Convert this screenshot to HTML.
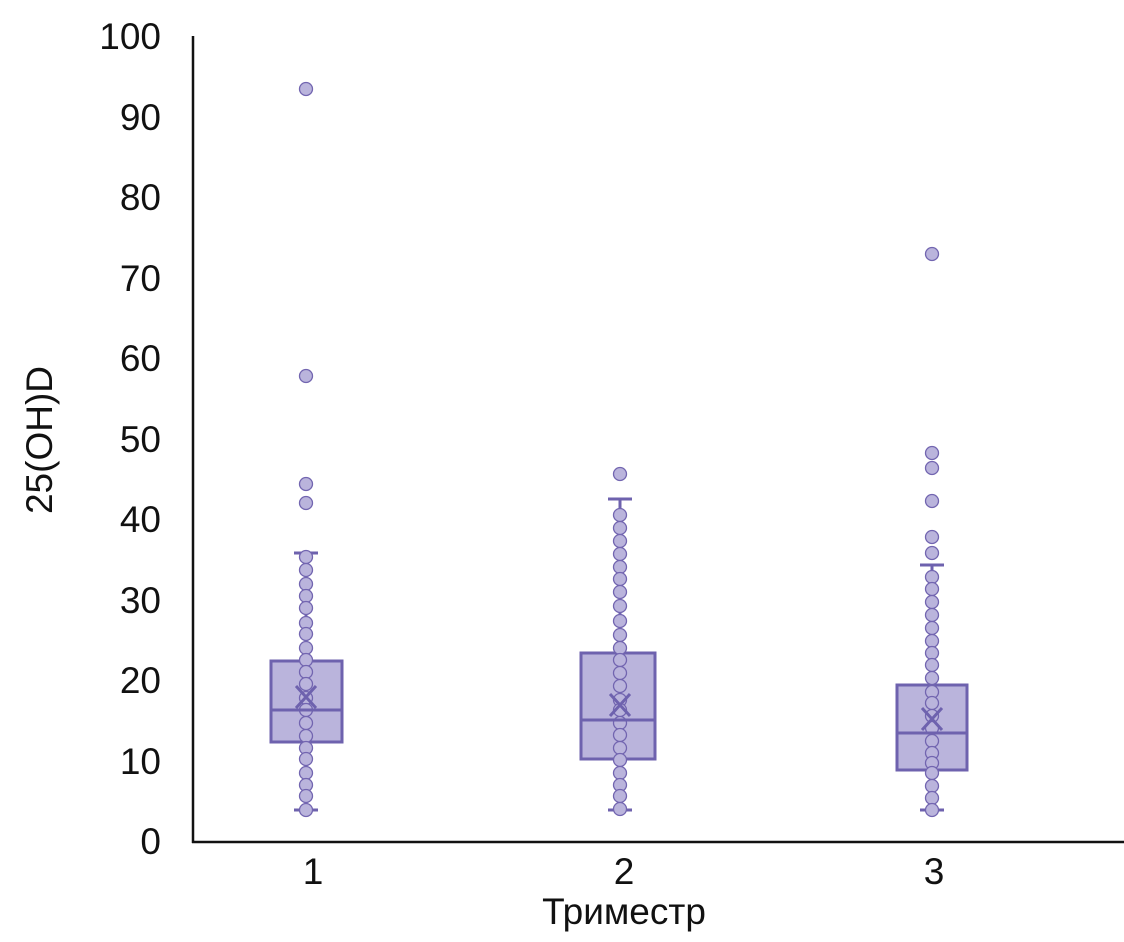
<!DOCTYPE html>
<html><head><meta charset="utf-8"><style>body{margin:0;background:#fff}svg{display:block}text{font-family:"Liberation Sans",sans-serif;fill:#111}</style></head>
<body>
<svg width="1124" height="942" viewBox="0 0 1124 942" xmlns="http://www.w3.org/2000/svg">
<g font-size="37" text-anchor="end">
<text x="161" y="49">100</text><text x="161" y="130">90</text><text x="161" y="210">80</text><text x="161" y="291">70</text><text x="161" y="371">60</text><text x="161" y="452">50</text><text x="161" y="532">40</text><text x="161" y="613">30</text><text x="161" y="693">20</text><text x="161" y="774">10</text><text x="161" y="854">0</text>
</g>
<g font-size="37" text-anchor="middle">
<text x="313" y="884">1</text><text x="624" y="884">2</text><text x="934" y="884">3</text>
<text x="624" y="924">Триместр</text>
<text transform="translate(52,440) rotate(-90)">25(OH)D</text>
</g>
<line x1="193" y1="36" x2="193" y2="843" stroke="#111" stroke-width="2.5"/>
<line x1="192" y1="842" x2="1124" y2="842" stroke="#111" stroke-width="2.5"/>
<g stroke="#6e62ae" stroke-width="3" fill="#bab4dc">
<line x1="306" y1="553" x2="306" y2="661"/><line x1="294" y1="553" x2="318" y2="553"/>
<line x1="306" y1="742" x2="306" y2="810"/><line x1="294" y1="810" x2="318" y2="810"/>
<rect x="271" y="661" width="71" height="81"/>
<line x1="620" y1="499" x2="620" y2="653"/><line x1="608" y1="499" x2="632" y2="499"/>
<line x1="620" y1="759" x2="620" y2="810"/><line x1="608" y1="810" x2="632" y2="810"/>
<rect x="581" y="653" width="74" height="106"/>
<line x1="932" y1="565" x2="932" y2="685"/><line x1="920" y1="565" x2="944" y2="565"/>
<line x1="932" y1="770" x2="932" y2="810"/><line x1="920" y1="810" x2="944" y2="810"/>
<rect x="897" y="685" width="70" height="85"/>
</g>
<g fill="#bab4dc" stroke="#7265b0" stroke-width="1.3">
<g transform="translate(306,0)">
<circle cy="89" r="6.5"/><circle cy="376" r="6.5"/><circle cy="484" r="6.5"/><circle cy="503" r="6.5"/><circle cy="557" r="6.5"/><circle cy="570" r="6.5"/><circle cy="584" r="6.5"/><circle cy="596" r="6.5"/><circle cy="608" r="6.5"/><circle cy="623" r="6.5"/><circle cy="634" r="6.5"/><circle cy="648" r="6.5"/><circle cy="660" r="6.5"/><circle cy="672" r="6.5"/><circle cy="684" r="6.5"/><circle cy="698" r="6.5"/><circle cy="710" r="6.5"/><circle cy="723" r="6.5"/><circle cy="736" r="6.5"/><circle cy="748" r="6.5"/><circle cy="759" r="6.5"/><circle cy="773" r="6.5"/><circle cy="785" r="6.5"/><circle cy="796" r="6.5"/><circle cy="810" r="6.5"/>
</g>
<g transform="translate(620,0)">
<circle cy="474" r="6.5"/><circle cy="515" r="6.5"/><circle cy="528" r="6.5"/><circle cy="541" r="6.5"/><circle cy="554" r="6.5"/><circle cy="567" r="6.5"/><circle cy="579" r="6.5"/><circle cy="592" r="6.5"/><circle cy="606" r="6.5"/><circle cy="621" r="6.5"/><circle cy="635" r="6.5"/><circle cy="648" r="6.5"/><circle cy="660" r="6.5"/><circle cy="673" r="6.5"/><circle cy="686" r="6.5"/><circle cy="700" r="6.5"/><circle cy="710" r="6.5"/><circle cy="723" r="6.5"/><circle cy="735" r="6.5"/><circle cy="748" r="6.5"/><circle cy="760" r="6.5"/><circle cy="773" r="6.5"/><circle cy="785" r="6.5"/><circle cy="796" r="6.5"/><circle cy="809" r="6.5"/>
</g>
<g transform="translate(932,0)">
<circle cy="254" r="6.5"/><circle cy="453" r="6.5"/><circle cy="468" r="6.5"/><circle cy="501" r="6.5"/><circle cy="537" r="6.5"/><circle cy="553" r="6.5"/><circle cy="577" r="6.5"/><circle cy="589" r="6.5"/><circle cy="602" r="6.5"/><circle cy="615" r="6.5"/><circle cy="628" r="6.5"/><circle cy="641" r="6.5"/><circle cy="653" r="6.5"/><circle cy="665" r="6.5"/><circle cy="678" r="6.5"/><circle cy="692" r="6.5"/><circle cy="703" r="6.5"/><circle cy="716" r="6.5"/><circle cy="728" r="6.5"/><circle cy="741" r="6.5"/><circle cy="753" r="6.5"/><circle cy="763" r="6.5"/><circle cy="773" r="6.5"/><circle cy="786" r="6.5"/><circle cy="798" r="6.5"/><circle cy="810" r="6.5"/>
</g>
</g>
<g stroke="#6e62ae" stroke-width="3" fill="none">
<line x1="271" y1="710" x2="342" y2="710"/>
<line x1="581" y1="720" x2="655" y2="720"/>
<line x1="897" y1="733" x2="967" y2="733"/>
<path d="M296 686 L316 708 M316 686 L296 708"/>
<path d="M610 694 L630 716 M630 694 L610 716"/>
<path d="M922 708 L942 730 M942 708 L922 730"/>
</g>
</svg>
</body></html>
